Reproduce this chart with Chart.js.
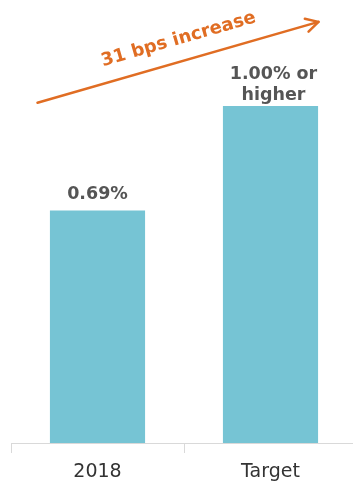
<!DOCTYPE html>
<html>
<head>
<meta charset="utf-8">
<script src="https://cdn.jsdelivr.net/npm/chart.js@4.4.1/dist/chart.umd.min.js"></script>
<style>
  html, body { margin: 0; padding: 0; background: #fff; overflow: hidden; }
  /* the axis runs a few px past the right edge in the original */
  #wrap { width: 357px; height: 484px; }
</style>
</head>
<body>
<div id="wrap"><canvas id="chart"></canvas></div>
<script>
// chart data
const categories = ['2018', 'Target'];
const values = [0.69, 1.00];
const valueLabels = [['0.69%'], ['1.00% or', 'higher']];
const arrowText = '31 bps increase';

const barColor = '#76C4D4';
const orange = '#E06D23';

// Draws value labels above bars and the slanted arrow
const annotations = {
    id: 'annotations',
    afterDatasetsDraw(chart) {
        const ctx = chart.ctx;
        const bars = chart.getDatasetMeta(0).data;
        const y = chart.scales.y;

        ctx.save();
        ctx.fillStyle = '#555555';
        ctx.font = 'bold 17.5px "DejaVu Sans", Verdana, sans-serif';
        ctx.textAlign = 'center';
        ctx.textBaseline = 'alphabetic';
        bars.forEach((bar, i) => {
            const lines = valueLabels[i];
            // single line sits a bit higher than the two-line label
            const gap = lines.length > 1 ? 6 : 12;
            lines.forEach((line, j) => {
                const offset = (lines.length - 1 - j) * 21;
                ctx.fillText(line, bar.x + (lines.length > 1 ? 3 : 0), bar.y - gap - offset);
            });
        });

        // Arrow
        const x1 = bars[0].x - 60, y1 = y.getPixelForValue(1.01);
        const x2 = bars[1].x + 48, y2 = y.getPixelForValue(1.25);
        const ang = Math.atan2(y2 - y1, x2 - x1);
        const len = Math.hypot(x2 - x1, y2 - y1);
        ctx.strokeStyle = orange;
        ctx.lineWidth = 2.5;
        ctx.lineCap = 'round';
        ctx.lineJoin = 'round';
        ctx.beginPath();
        ctx.moveTo(x1, y1);
        ctx.lineTo(x2, y2);
        ctx.stroke();
        const head = 14;
        ctx.beginPath();
        ctx.moveTo(x2 + head * Math.cos(ang + Math.PI - 0.5), y2 + head * Math.sin(ang + Math.PI - 0.5));
        ctx.lineTo(x2, y2);
        ctx.lineTo(x2 + head * Math.cos(ang + Math.PI + 0.5), y2 + head * Math.sin(ang + Math.PI + 0.5));
        ctx.stroke();

        // Arrow text
        ctx.translate(x1, y1);
        ctx.rotate(ang);
        ctx.fillStyle = orange;
        ctx.font = 'bold 18px "DejaVu Sans", Verdana, sans-serif';
        ctx.textAlign = 'left';
        ctx.textBaseline = 'alphabetic';
        ctx.fillText(arrowText, len * 0.25, -17);
        ctx.restore();
    }
};

new Chart(document.getElementById('chart'), {
    type: 'bar',
    data: {
        labels: categories,
        datasets: [{
            data: values,
            backgroundColor: barColor,
            borderWidth: 0,
            barPercentage: 0.55,
            categoryPercentage: 1.0
        }]
    },
    options: {
        responsive: true,
        maintainAspectRatio: false,
        animation: false,
        layout: { padding: { left: 11, right: 0, top: 5, bottom: 0 } },
        plugins: {
            legend: { display: false },
            tooltip: { enabled: false }
        },
        scales: {
            x: {
                afterFit(scale) { scale.height = 41; },
                grid: {
                    display: true,
                    drawOnChartArea: false,
                    offset: true,
                    tickLength: 10,
                    color: '#D9D9D9'
                },
                border: { color: '#D9D9D9', width: 1 },
                ticks: {
                    color: '#333333',
                    padding: 8,
                    font: { family: '"DejaVu Sans", Verdana, sans-serif', size: 19 }
                }
            },
            y: {
                display: false,
                min: 0,
                max: 1.3
            }
        }
    },
    plugins: [annotations]
});
</script>
</body>
</html>
